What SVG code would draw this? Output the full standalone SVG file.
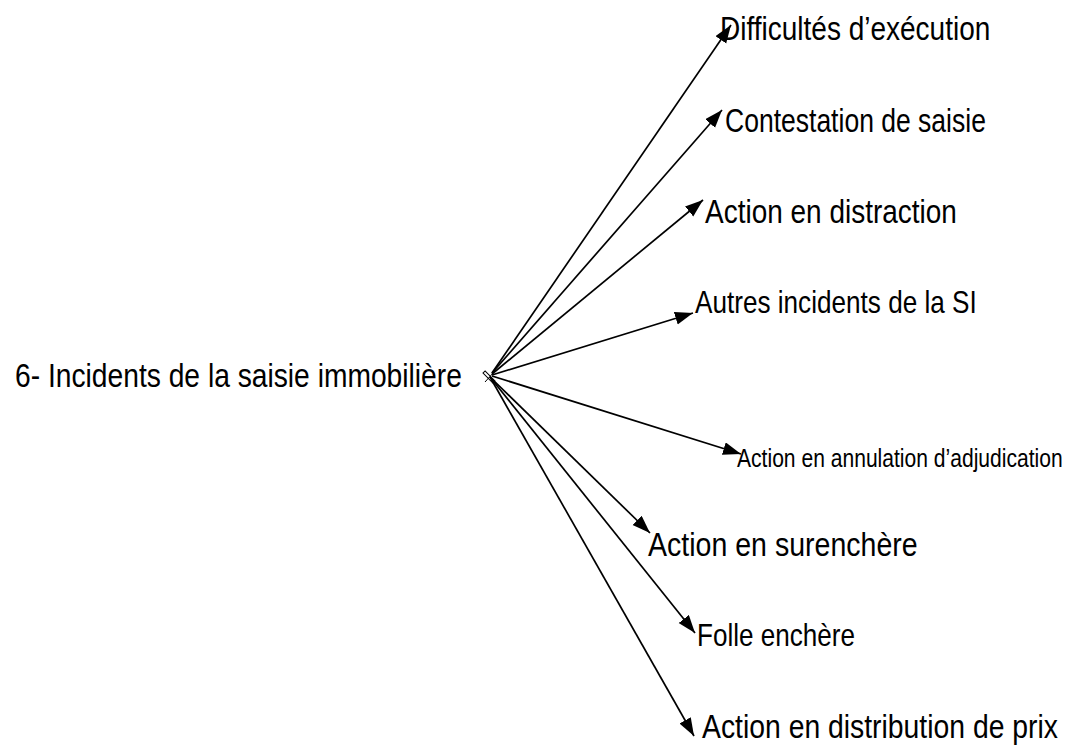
<svg xmlns="http://www.w3.org/2000/svg" width="1077" height="747" viewBox="0 0 1077 747">
<style>
text{font-family:"Liberation Sans",Arial,sans-serif;fill:#000;}
.c line{stroke:#000;stroke-width:1.7;marker-end:url(#ah);}
</style>
<defs>
<marker id="ah" markerUnits="userSpaceOnUse" markerWidth="19" markerHeight="14" refX="18" refY="6.5" orient="auto">
<path d="M0,0 L18,6.5 L0,13 z" fill="#000"/>
</marker>
</defs>
<rect width="1077" height="747" fill="#fff"/>
<g id="root">
<text transform="matrix(0.83 0 0 1 15 387)" font-size="34">6- Incidents de la saisie immobilière</text>
<rect x="482" y="375.5" width="14" height="3" fill="none" stroke="#000" stroke-width="1" transform="rotate(45 489 377)"/>
<line x1="485" y1="382" x2="494" y2="372" stroke="#000" stroke-width="1"/>
</g>
<g class="c" id="connectors">
<line x1="492" y1="373" x2="731" y2="25"/>
<line x1="492" y1="373" x2="722" y2="110"/>
<line x1="492" y1="374" x2="703" y2="200"/>
<line x1="492" y1="375" x2="693" y2="313"/>
<line x1="492" y1="376" x2="741" y2="454"/>
<line x1="490" y1="377" x2="650" y2="533"/>
<line x1="490" y1="377" x2="695" y2="633"/>
<line x1="490" y1="377" x2="694" y2="736"/>
</g>
<g id="n1"><text transform="matrix(0.824 0 0 1 720 40)" font-size="34">Difficultés d’exécution</text></g>
<g id="n2"><text transform="matrix(0.78 0 0 1 725 132)" font-size="34">Contestation de saisie</text></g>
<g id="n3"><text transform="matrix(0.823 0 0 1 705 223)" font-size="34">Action en distraction</text></g>
<g id="n4"><text transform="matrix(0.817 0 0 1 695 313)" font-size="32">Autres incidents de la SI</text></g>
<g id="n5"><text transform="matrix(0.811 0 0 1 737 467)" font-size="26">Action en annulation d’adjudication</text></g>
<g id="n6"><text transform="matrix(0.84 0 0 1 648 556)" font-size="34">Action en surenchère</text></g>
<g id="n7"><text transform="matrix(0.815 0 0 1 697 646)" font-size="32">Folle enchère</text></g>
<g id="n8"><text transform="matrix(0.859 0 0 1 702 738)" font-size="33">Action en distribution de prix</text></g>
</svg>
